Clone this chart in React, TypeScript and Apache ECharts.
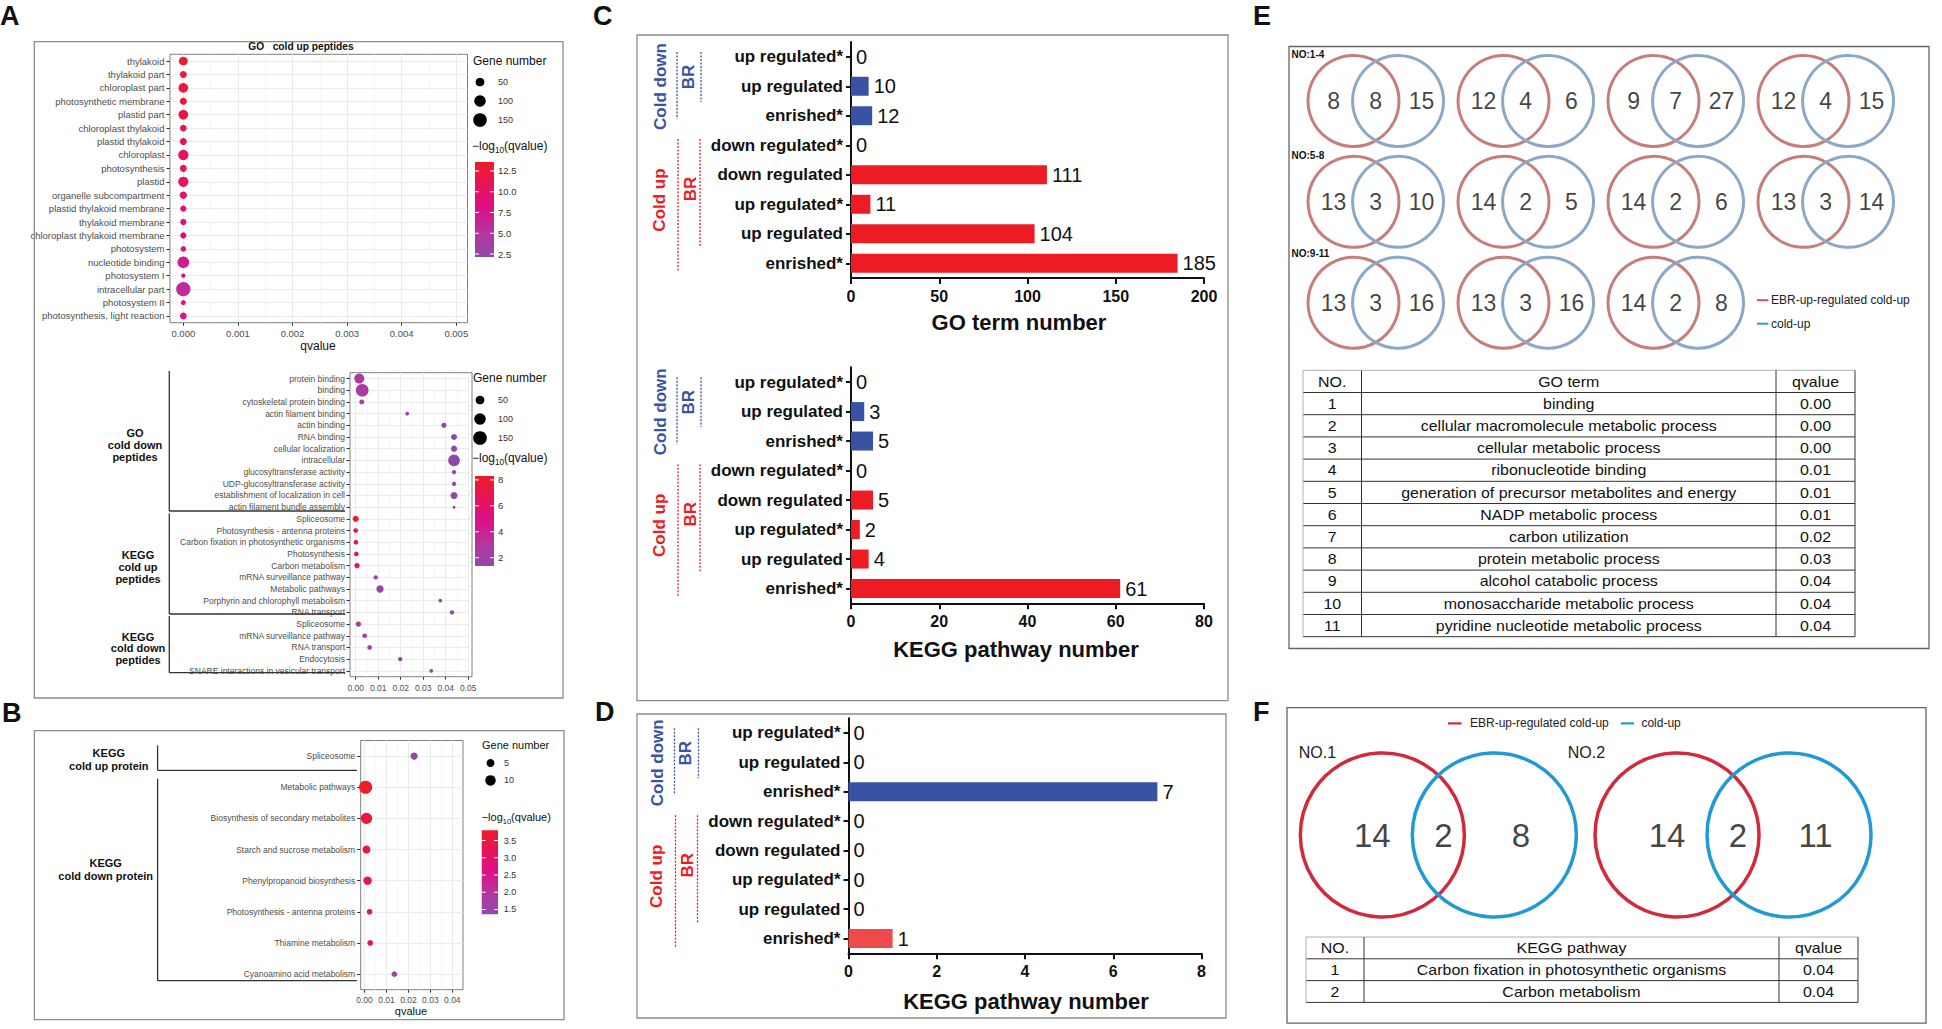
import React, { useEffect, useRef } from "react";
import * as echarts from "echarts";

const FONT = "'Liberation Sans', Arial, Helvetica, sans-serif";

// ---------- Panel A (top): GO cold up peptides ----------
const goUpTerms = ["thylakoid", "thylakoid part", "chloroplast part", "photosynthetic membrane", "plastid part", "chloroplast thylakoid", "plastid thylakoid", "chloroplast", "photosynthesis", "plastid", "organelle subcompartment", "plastid thylakoid membrane", "thylakoid membrane", "chloroplast thylakoid membrane", "photosystem", "nucleotide binding", "photosystem I", "intracellular part", "photosystem II", "photosynthesis, light reaction"];
const goUpQvalue = [0.00000, 0.00000, 0.00000, 0.00000, 0.00000, 0.00000, 0.00000, 0.00000, 0.00000, 0.00000, 0.00000, 0.00000, 0.00000, 0.00000, 0.00000, 0.00000, 0.00000, 0.00000, 0.00000, 0.00000];
const goUpGenes = [50, 28, 66, 28, 66, 25, 28, 76, 28, 76, 31, 20, 20, 20, 15, 104, 6, 168, 10, 25];
const goUpLogQ = [13.2, 12.5, 12.3, 12.0, 11.6, 11.1, 10.9, 10.6, 10.4, 10.2, 10.0, 9.0, 8.9, 8.8, 8.4, 7.0, 8.2, 5.8, 8.1, 7.8];
const qTicksA1 = [0, 0.001, 0.002, 0.003, 0.004, 0.005];
const colorTicksA1 = [12.5, 10.0, 7.5, 5.0, 2.5];

// ---------- Panel A (bottom): GO cold down / KEGG cold up / KEGG cold down peptides ----------
const aTerms2 = ["protein binding", "binding", "cytoskeletal protein binding", "actin filament binding", "actin binding", "RNA binding", "cellular localization", "intracellular", "glucosyltransferase activity", "UDP-glucosyltransferase activity", "establishment of localization in cell", "actin filament bundle assembly", "Spliceosome", "Photosynthesis - antenna proteins", "Carbon fixation in photosynthetic organisms", "Photosynthesis", "Carbon metabolism", "mRNA surveillance pathway", "Metabolic pathways", "Porphyrin and chlorophyll metabolism", "RNA transport", "Spliceosome", "mRNA surveillance pathway", "RNA transport", "Endocytosis", "SNARE interactions in vesicular transport"];
const aQvalue2 = [0.0016, 0.0029, 0.0027, 0.0229, 0.0392, 0.0437, 0.0437, 0.0437, 0.0437, 0.0437, 0.0437, 0.0437, 0.0000, 0.0000, 0.0001, 0.0003, 0.0006, 0.0089, 0.0108, 0.0376, 0.0428, 0.0012, 0.0040, 0.0062, 0.0198, 0.0336];
const aGenes2 = [71, 127, 10, 4, 12, 18, 20, 104, 6, 6, 28, 1, 20, 8, 8, 8, 12, 6, 31, 3, 6, 12, 8, 8, 6, 4];
const aLogQ2 = [2.8, 2.55, 2.57, 1.64, 1.41, 1.36, 1.36, 1.36, 1.36, 1.36, 1.36, 1.36, 8.3, 7.0, 6.4, 5.8, 5.2, 2.05, 1.97, 1.42, 1.37, 2.92, 2.4, 2.2, 1.7, 1.47];
const qTicksA2 = [0, 0.01, 0.02, 0.03, 0.04, 0.05];
const colorTicksA2 = [8, 6, 4, 2];
const aGroupLabels = ["GO\ncold down\npeptides", "KEGG\ncold up\npeptides", "KEGG\ncold down\npeptides"];

// ---------- Panel B: KEGG protein ----------
const bTerms = ["Spliceosome", "Metabolic pathways", "Biosynthesis of secondary metabolites", "Starch and sucrose metabolism", "Phenylpropanoid biosynthesis", "Photosynthesis - antenna proteins", "Thiamine metabolism", "Cyanoamino acid metabolism"];
const bQvalue = [0.0226, 0.0005, 0.0009, 0.0009, 0.0014, 0.0023, 0.0026, 0.0136];
const bGenes = [4, 17, 12, 5, 6, 2, 2, 2];
const bLogQ = [1.45, 3.8, 3.55, 3.3, 3.2, 2.9, 2.8, 1.65];
const qTicksB = [0, 0.01, 0.02, 0.03, 0.04];
const colorTicksB = [3.5, 3.0, 2.5, 2.0, 1.5];
const bGroupLabels = ["KEGG\ncold up protein", "KEGG\ncold down protein"];

const geneLegendA = [50, 100, 150];
const geneLegendB = [5, 10];

// ---------- Panels C / D: bar charts ----------
const barCats = ["up regulated*", "up regulated", "enrished*", "down regulated*", "down regulated", "up regulated*", "up regulated", "enrished*"];
const goTermCounts = [0, 10, 12, 0, 111, 11, 104, 185];
const keggCountsC = [0, 3, 5, 0, 5, 2, 4, 61];
const keggCountsD = [0, 0, 7, 0, 0, 0, 0, 1];

// ---------- Panel E: Venn + GO table ----------
const vennLeftE = [8, 12, 9, 12, 13, 14, 14, 13, 13, 13, 14];
const vennMidE = [8, 4, 7, 4, 3, 2, 2, 3, 3, 3, 2];
const vennRightE = [15, 6, 27, 15, 10, 5, 6, 14, 16, 16, 8];
const vennRowLabelsE = ["NO:1-4", "NO:5-8", "NO:9-11"];
const goTableNo = ["1", "2", "3", "4", "5", "6", "7", "8", "9", "10", "11"];
const goTableTerms = ["binding", "cellular macromolecule metabolic process", "cellular metabolic process", "ribonucleotide binding", "generation of precursor metabolites and energy", "NADP metabolic process", "carbon utilization", "protein metabolic process", "alcohol catabolic process", "monosaccharide metabolic process", "pyridine nucleotide metabolic process"];
const goTableQ = ["0.00", "0.00", "0.00", "0.01", "0.01", "0.01", "0.02", "0.03", "0.04", "0.04", "0.04"];

// ---------- Panel F: Venn + KEGG table ----------
const vennLeftF = [14, 14];
const vennMidF = [2, 2];
const vennRightF = [8, 11];
const vennTitlesF = ["NO.1", "NO.2"];
const keggTableNo = ["1", "2"];
const keggTableTerms = ["Carbon fixation in photosynthetic organisms", "Carbon metabolism"];
const keggTableQ = ["0.04", "0.04"];

const legendNames = ["EBR-up-regulated cold-up", "cold-up"];

const PALETTE = ["#9049a9", "#b4369f", "#db1089", "#e8135a", "#ee1c24"];
const BLUE = "#3953a4";
const RED = "#ed1c24";
const RED_D = "#ee4a4c";
const sizeA = (n: number) => 2 + 0.95 * Math.sqrt(n);
const sizeB = (n: number) => 1.8 + 2.75 * Math.sqrt(n);

function buildOption() {
  const els: any[] = [];
  const txt = (x: number, y: number, text: string, size: number, o: any = {}) => {
    els.push({
      type: "text", x, y, rotation: o.rot || 0, scaleX: o.sx || 1, silent: true, z: 10,
      style: {
        text, fill: o.fill || "#111", fontSize: size, fontWeight: o.bold ? "bold" : "normal",
        fontFamily: o.font || FONT, align: o.align || "left", textAlign: o.align || "left",
        verticalAlign: "middle", textVerticalAlign: "middle", lineHeight: o.lh, rich: o.rich,
      },
    });
  };
  const line = (x1: number, y1: number, x2: number, y2: number, stroke: string, w = 1, dash?: number[]) => {
    els.push({ type: "line", silent: true, z: 5, shape: { x1, y1, x2, y2 }, style: { stroke, lineWidth: w, lineDash: dash } });
  };
  const rect = (x: number, y: number, w: number, h: number, stroke: string, lw = 1) => {
    els.push({ type: "rect", silent: true, z: 1, shape: { x, y, width: w, height: h }, style: { fill: "none", stroke, lineWidth: lw } });
  };
  const circ = (cx: number, cy: number, r: number, fill: string) => {
    els.push({ type: "circle", silent: true, z: 5, shape: { cx, cy, r }, style: { fill } });
  };
  const logTitle = (x: number, y: number, size: number) => {
    els.push({
      type: "text", x, y, silent: true, z: 10,
      style: {
        text: "{a|\u2212log}{s|10}{a|(qvalue)}", align: "left", textAlign: "left", verticalAlign: "middle", textVerticalAlign: "middle",
        rich: {
          a: { fontSize: size, lineHeight: size + 4, fill: "#111", color: "#111", fontFamily: FONT },
          s: { fontSize: size * 0.68, lineHeight: size * 0.68, verticalAlign: "bottom", fill: "#111", color: "#111", fontFamily: FONT },
        },
      },
    });
  };
  const colorBar = (x: number, top: number, w: number, h: number, vmin: number, vmax: number, ticks: number[], dec: number, labelX: number, fs: number) => {
    els.push({
      type: "rect", silent: true, z: 4, shape: { x, y: top, width: w, height: h },
      style: {
        fill: {
          type: "linear", x: 0, y: 0, x2: 0, y2: 1,
          colorStops: PALETTE.slice().reverse().map((c, i) => ({ offset: i / (PALETTE.length - 1), color: c })),
        },
      },
    });
    ticks.forEach((v) => {
      const y = top + ((vmax - v) / (vmax - vmin)) * h;
      line(x, y, x + 4, y, "#ffffff", 1);
      line(x + w - 4, y, x + w, y, "#ffffff", 1);
      txt(labelX, y, v.toFixed(dec), fs, { fill: "#333" });
    });
  };

  // ---- panel frames and letters ----
  rect(34.3, 41.7, 528.7, 656.3, "#8c8c8c", 1.3);
  rect(34.4, 730.6, 529.6, 289, "#8c8c8c", 1.3);
  rect(637, 35, 591, 665.7, "#8c8c8c", 1.3);
  rect(637, 714, 589, 304, "#8c8c8c", 1.3);
  rect(1289, 46.5, 640, 602, "#666", 1.3);
  rect(1287, 707.7, 639, 315.5, "#666", 1.3);
  txt(0, 16, "A", 27, { bold: true });
  txt(2, 713, "B", 27, { bold: true });
  txt(593, 16, "C", 27, { bold: true });
  txt(595, 712, "D", 27, { bold: true });
  txt(1253, 16, "E", 27, { bold: true });
  txt(1253, 712, "F", 27, { bold: true });

  // ---- panel A decorations ----
  txt(301, 46.8, "GO\u00a0\u00a0\u00a0cold up peptides", 10.2, { bold: true, align: "center" });
  txt(318, 346, "qvalue", 12, { align: "center" });
  txt(473, 60.7, "Gene number", 12);
  geneLegendA.forEach((g, i) => {
    const y = [82, 101, 120][i];
    circ(480, y, sizeA(g) / 2, "#000");
    txt(498, y, String(g), 9, { fill: "#333" });
  });
  logTitle(472, 146, 12);
  colorBar(475, 162, 19, 95, 2.14, 13.58, colorTicksA1, 1, 498, 9.5);

  txt(473, 377.7, "Gene number", 12);
  geneLegendA.forEach((g, i) => {
    const y = [400, 419, 438][i];
    circ(480, y, sizeA(g) / 2, "#000");
    txt(498, y, String(g), 9, { fill: "#333" });
  });
  logTitle(472, 458, 12);
  colorBar(475, 476, 19, 90, 1.36, 8.3, colorTicksA2, 0, 498, 9.5);

  // brackets of lower A plot
  line(169.3, 371, 169.3, 511, "#333", 1.3);
  line(169.3, 511, 345, 511, "#333", 1.3);
  line(169.3, 513.3, 169.3, 614, "#333", 1.3);
  line(169.3, 614, 345, 614, "#333", 1.3);
  line(169.3, 616, 169.3, 672.7, "#333", 1.3);
  line(169.3, 672.7, 345, 672.7, "#333", 1.3);
  txt(135, 445, aGroupLabels[0], 11, { bold: true, align: "center", lh: 11.8 });
  txt(138, 567, aGroupLabels[1], 11, { bold: true, align: "center", lh: 11.8 });
  txt(138, 648.3, aGroupLabels[2], 11, { bold: true, align: "center", lh: 11.8 });

  // ---- panel B decorations ----
  line(157.6, 745.5, 157.6, 770.4, "#333", 1.3);
  line(157.6, 770.4, 356.9, 770.4, "#333", 1.3);
  line(157.6, 778.7, 157.6, 980.7, "#333", 1.3);
  line(157.6, 980.7, 356.9, 980.7, "#333", 1.3);
  txt(108.8, 759.7, bGroupLabels[0], 11, { bold: true, align: "center", lh: 13.4 });
  txt(105.7, 869.4, bGroupLabels[1], 11, { bold: true, align: "center", lh: 13.4 });
  txt(411, 1011.3, "qvalue", 11, { align: "center" });
  txt(482, 745, "Gene number", 11);
  geneLegendB.forEach((g, i) => {
    const y = [763, 780.4][i];
    circ(490.5, y, sizeB(g) / 2, "#000");
    txt(504, y, String(g), 9, { fill: "#333" });
  });
  logTitle(481.7, 817, 11);
  colorBar(481.7, 830.2, 16.3, 84.1, 1.36, 3.8, colorTicksB, 1, 503.8, 9);

  // ---- panels C, D decorations ----
  const barDeco = (L: number, T: number) => {
    line(L - 174, T + 10, L - 174, T + 77, BLUE, 1.3, [2, 1.5]);
    line(L - 150, T + 10, L - 150, T + 60, BLUE, 1.3, [2, 1.5]);
    txt(L - 191, T + 44.5, "Cold down", 17, { bold: true, align: "center", rot: Math.PI / 2, fill: BLUE });
    txt(L - 163, T + 35, "BR", 17, { bold: true, align: "center", rot: Math.PI / 2, fill: BLUE });
    line(L - 173, T + 97, L - 173, T + 229, RED, 1.3, [2, 1.5]);
    line(L - 151, T + 97, L - 151, T + 205, RED, 1.3, [2, 1.5]);
    txt(L - 192, T + 158, "Cold up", 17, { bold: true, align: "center", rot: Math.PI / 2, fill: RED });
    txt(L - 161, T + 147, "BR", 17, { bold: true, align: "center", rot: Math.PI / 2, fill: RED });
  };
  barDeco(851, 42);
  barDeco(851, 367.3);
  barDeco(848.5, 718.3);
  txt(1019, 322.5, "GO term number", 22, { bold: true, align: "center" });
  txt(1016, 649.5, "KEGG pathway number", 22, { bold: true, align: "center" });
  txt(1026, 1001, "KEGG pathway number", 22, { bold: true, align: "center" });

  // ---- panel E decorations ----
  vennRowLabelsE.forEach((s, i) => txt(1291.5, [54, 155.4, 253.6][i], s, 10, { bold: true }));
  line(1757, 300.2, 1768.5, 300.2, "#d0555a", 2);
  txt(1771, 300.2, legendNames[0], 12, { fill: "#222" });
  line(1757, 323.7, 1768.5, 323.7, "#2a9ad0", 2);
  txt(1771, 323.7, legendNames[1], 12, { fill: "#222" });

  const table = (xs: number[], top: number, rh: number, header: string[], cols: string[][]) => {
    const nRows = cols[0].length + 1;
    for (let r = 0; r <= nRows; r++) {
      line(xs[0], top + r * rh, xs[3], top + r * rh, r === 0 ? "#b0b0b0" : "#333", 1);
    }
    xs.forEach((x, i) => line(x, top, x, top + nRows * rh, i === 0 ? "#b0b0b0" : "#333", 1));
    const centers = [(xs[0] + xs[1]) / 2, (xs[1] + xs[2]) / 2, (xs[2] + xs[3]) / 2];
    header.forEach((h, c) => txt(centers[c], top + rh / 2, h, 14, { align: "center", sx: 1.14 }));
    cols.forEach((col, c) => col.forEach((s, r) => txt(centers[c], top + rh * (r + 1.5), s, 14, { align: "center", sx: 1.14 })));
  };
  table([1303, 1361.5, 1776, 1855], 370.3, 22.2, ["NO.", "GO term", "qvalue"], [goTableNo, goTableTerms, goTableQ]);

  // ---- panel F decorations ----
  line(1448, 723.4, 1461.5, 723.4, "#d22a3c", 2.2);
  txt(1470, 723.4, legendNames[0], 12, { fill: "#222" });
  line(1621, 723.4, 1634, 723.4, "#1f9ad6", 2.2);
  txt(1641.4, 723.4, legendNames[1], 12, { fill: "#222" });
  txt(1298.8, 752, vennTitlesF[0], 16, { fill: "#222" });
  txt(1567.8, 752, vennTitlesF[1], 16, { fill: "#222" });
  table([1306, 1364, 1779, 1858], 937, 21.8, ["NO.", "KEGG pathway", "qvalue"], [keggTableNo, keggTableTerms, keggTableQ]);

  // ---------- grids / axes ----------
  const grids: any[] = [
    { left: 170, top: 54.3, width: 297.5, height: 268.4, show: true, borderColor: "#7f7f7f", borderWidth: 1 },
    { left: 350, top: 372.7, width: 122, height: 304, show: true, borderColor: "#7f7f7f", borderWidth: 1 },
    { left: 360.7, top: 740.5, width: 102.3, height: 249.2, show: true, borderColor: "#7f7f7f", borderWidth: 1 },
    { left: 851, top: 42, width: 353, height: 236 },
    { left: 851, top: 367.3, width: 353, height: 236 },
    { left: 848.5, top: 718.3, width: 353, height: 235 },
    { left: 1278.5, top: 50.5, width: 645, height: 302.7 },
    { left: 1235, top: 755, width: 648.3, height: 160 },
  ].map((g) => ({ ...g, outerBoundsMode: "none", containLabel: false }));

  const dotX = (gi: number, min: number, max: number, ticks: number[], dec: number, fs: number, margin: number) => ({
    type: "value", gridIndex: gi, min, max, splitNumber: 5,
    axisLine: { show: false },
    axisTick: { show: true, length: 3, lineStyle: { color: "#333" }, customValues: ticks },
    axisLabel: { customValues: ticks, formatter: (v: number) => v.toFixed(dec), fontSize: fs, color: "#4d4d4d", margin, fontFamily: FONT },
    splitLine: { show: true, lineStyle: { color: "#ebebeb", width: 1 } },
    minorTick: { show: false, splitNumber: 2 },
    minorSplitLine: { show: true, lineStyle: { color: "#f4f4f4", width: 0.7 } },
  });
  const dotY = (gi: number, cats: string[], fs: number, margin: number) => ({
    type: "category", gridIndex: gi, data: cats.map((_, i) => String(i)), inverse: true,
    axisLine: { show: false, onZero: false },
    axisTick: { show: true, alignWithLabel: true, interval: 0, length: 3.5, lineStyle: { color: "#333" } },
    axisLabel: { interval: 0, formatter: (v: string) => cats[+v], fontSize: fs, color: "#4d4d4d", margin, fontFamily: FONT },
    splitLine: { show: false },
  });
  const barX = (gi: number, max: number, interval: number) => ({
    type: "value", gridIndex: gi, min: 0, max, interval,
    axisLine: { show: true, onZero: false, lineStyle: { color: "#111", width: 2 } },
    axisTick: { show: true, length: 6, lineStyle: { color: "#111", width: 2 } },
    axisLabel: { fontSize: 16, fontWeight: "bold", color: "#111", margin: 10, fontFamily: FONT },
    splitLine: { show: false },
  });
  const barY = (gi: number) => ({
    type: "category", gridIndex: gi, data: barCats.map((_, i) => String(i)), inverse: true,
    axisLine: { show: true, onZero: false, lineStyle: { color: "#111", width: 2 } },
    axisTick: { show: true, alignWithLabel: true, interval: 0, length: 5, lineStyle: { color: "#111", width: 2 } },
    axisLabel: { interval: 0, formatter: (v: string) => barCats[+v], fontSize: 17, fontWeight: "bold", color: "#111", margin: 8, fontFamily: FONT },
    splitLine: { show: false },
  });
  const hidden = (gi: number, min: number, max: number, inverse = false) => ({ type: "value", gridIndex: gi, min, max, inverse, show: false, splitLine: { show: false } });

  const xAxis = [
    dotX(0, -0.000244, 0.005205, qTicksA1, 3, 9.5, 5.5),
    dotX(1, -0.00253, 0.05169, qTicksA2, 2, 8.5, 7),
    dotX(2, -0.00173, 0.04487, qTicksB, 2, 8.5, 6),
    barX(3, 200, 50),
    barX(4, 80, 20),
    barX(5, 8, 2),
    hidden(6, -0.5, 3.8),
    hidden(7, -0.5, 1.7),
  ];
  const yAxis = [
    dotY(0, goUpTerms, 9.5, 5.5),
    dotY(1, aTerms2, 8.5, 5),
    dotY(2, bTerms, 8.5, 5.5),
    barY(3),
    barY(4),
    barY(5),
    hidden(6, -0.5, 2.5, true),
    hidden(7, -1, 1),
  ];

  const dotSeries = (gi: number, cats: string[], q: number[], genes: number[], score: number[], sizeFn: (n: number) => number) => ({
    type: "scatter", xAxisIndex: gi, yAxisIndex: gi, z: 3, clip: false, silent: true,
    data: q.map((v, i) => [v, i, genes[i], score[i]]),
    symbolSize: (d: number[]) => sizeFn(d[2]),
    itemStyle: { opacity: 1 },
    markLine: {
      silent: true, z: 1, symbol: ["none", "none"], animation: false, label: { show: false },
      lineStyle: { color: "#ebebeb", type: "solid", width: 1 }, emphasis: { disabled: true },
      data: cats.map((_, i) => ({ yAxis: i })),
    },
  });
  const barSeries = (gi: number, vals: number[], redColor: string) => ({
    type: "bar", xAxisIndex: gi, yAxisIndex: gi, barWidth: 19, silent: true,
    data: vals.map((v, i) => ({ value: v, itemStyle: { color: i < 3 ? BLUE : redColor } })),
    label: { show: true, position: "right", distance: 5, fontSize: 20, color: "#111", fontFamily: FONT },
  });

  const vennE = vennLeftE.map((_, i) => [i % 4, Math.floor(i / 4)]);
  const ring = (gi: number, pts: number[][], size: number, color: string, bw: number) => ({
    type: "scatter", xAxisIndex: gi, yAxisIndex: gi, silent: true, clip: false, z: 2,
    symbol: "circle", symbolSize: size, data: pts,
    itemStyle: { color: "rgba(0,0,0,0)", borderColor: color, borderWidth: bw, opacity: 1 },
  });
  const nums = (gi: number, pts: number[][], fs: number) => ({
    type: "scatter", xAxisIndex: gi, yAxisIndex: gi, silent: true, clip: false, z: 4,
    symbolSize: 1, data: pts, itemStyle: { color: "rgba(0,0,0,0)" },
    label: { show: true, position: "inside", formatter: (p: any) => String(p.value[2]), fontSize: fs, color: "#111", fontFamily: FONT },
  });

  const series: any[] = [
    dotSeries(0, goUpTerms, goUpQvalue, goUpGenes, goUpLogQ, sizeA),
    dotSeries(1, aTerms2, aQvalue2, aGenes2, aLogQ2, sizeA),
    dotSeries(2, bTerms, bQvalue, bGenes, bLogQ, sizeB),
    barSeries(3, goTermCounts, RED),
    barSeries(4, keggCountsC, RED),
    barSeries(5, keggCountsD, RED_D),
    ring(6, vennE.map(([c, r]) => [c, r]), 91, "#c77d7b", 3),
    ring(6, vennE.map(([c, r]) => [c + 0.297, r]), 91, "#8ba8c8", 3),
    nums(6, vennE.map(([c, r], i) => [c - 0.133, r, vennLeftE[i]]), 23),
    nums(6, vennE.map(([c, r], i) => [c + 0.147, r, vennMidE[i]]), 23),
    nums(6, vennE.map(([c, r], i) => [c + 0.453, r, vennRightE[i]]), 23),
    ring(7, vennLeftF.map((_, i) => [i, 0]), 164, "#d22a3c", 3.5),
    ring(7, vennLeftF.map((_, i) => [i + 0.38, 0]), 164, "#1f9ad6", 3.5),
    nums(7, vennLeftF.map((v, i) => [i - 0.034, 0, v]), 33),
    nums(7, vennMidF.map((v, i) => [i + 0.207, 0, v]), 33),
    nums(7, vennRightF.map((v, i) => [i + 0.47, 0, v]), 33),
  ];

  const visualMap = [
    { type: "continuous", show: false, seriesIndex: 0, dimension: 3, min: 2.14, max: 13.58, inRange: { color: PALETTE } },
    { type: "continuous", show: false, seriesIndex: 1, dimension: 3, min: 1.36, max: 8.3, inRange: { color: PALETTE } },
    { type: "continuous", show: false, seriesIndex: 2, dimension: 3, min: 1.36, max: 3.8, inRange: { color: PALETTE } },
  ];

  return {
    animation: false,
    backgroundColor: "#ffffff",
    textStyle: { fontFamily: FONT },
    grid: grids,
    xAxis,
    yAxis,
    visualMap,
    series,
    graphic: { elements: els },
  };
}

export default function App() {
  const ref = useRef<HTMLDivElement>(null);
  useEffect(() => {
    const chart = echarts.init(ref.current!, null, { renderer: "svg" });
    chart.setOption(buildOption() as any);
    return () => chart.dispose();
  }, []);
  return <div ref={ref} style={{ position: "fixed", left: 0, top: 0, width: 1942, height: 1029, background: "#fff" }} />;
}
